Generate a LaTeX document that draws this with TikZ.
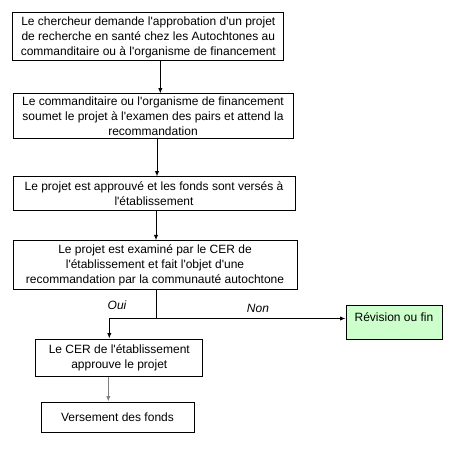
\documentclass[tikz,border=0pt]{standalone}
\usepackage{fontspec}
\setmainfont{Liberation Sans}[Ligatures=TeXOff]
\usetikzlibrary{arrows.meta}
\definecolor{revgreen}{RGB}{204,255,204}
\tikzset{
  etape/.style={draw,line width=0.75pt,align=center,inner sep=0pt,
    font=\fontsize{9}{11.25}\selectfont},
}
\begin{document}
\begin{tikzpicture}[x=0.75pt,y=-0.75pt,>={Latex[length=4pt,width=3.2pt]},line width=0.75pt]
  \useasboundingbox (0,0) rectangle (450,449);
  \node[etape,minimum width=203.25pt,minimum height=36pt](b1) at (148.3,37)
    {Le chercheur demande l'approbation d'un projet\\de recherche en santé chez les Autochtones au\\commanditaire ou à l'organisme de financement};
  \node[etape,minimum width=210pt,minimum height=33.75pt](b2) at (153,116.5)
    {Le commanditaire ou l'organisme de financement\\soumet le projet à l'examen des pairs et attend la\\recommandation};
  \node[etape,minimum width=211.5pt,minimum height=25.5pt](b3) at (154,194)
    {Le projet est approuvé et les fonds sont versés à\\l'établissement};
  \node[etape,minimum width=213pt,minimum height=36.75pt](b4) at (155,265.3)
    {Le projet est examiné par le CER de\\l'établissement et fait l'objet d'une\\recommandation par la communauté autochtone};
  \node[etape,minimum width=125.25pt,minimum height=27.75pt](b5) at (119.3,357.5)
    {Le CER de l'établissement\\approuve le projet};
  \node[etape,minimum width=114.75pt,minimum height=22.5pt](b6) at (117.5,417)
    {Versement des fonds};
  \node[etape,fill=revgreen,minimum width=72pt,minimum height=25.5pt,text depth=8pt](rev) at (394,322)
    {Révision ou fin};
  \coordinate (br) at (156.5,318.5);

  \node[font=\fontsize{9}{10}\selectfont\itshape] at (117,305) {Oui};
  \node[font=\fontsize{9}{10}\selectfont\itshape] at (258,308) {Non};

  \draw[->] ([xshift=9pt]b1.south) -- ([xshift=9pt]b1.south |- b2.north);
  \draw[->] ([xshift=3pt]b2.south) -- ([xshift=3pt]b2.south |- b3.north);
  \draw[->] ([xshift=1.5pt]b3.south) -- ([xshift=1.5pt]b3.south |- b4.north);
  \draw (b4.south -| br) -- (br);
  \draw[->] (br) -| ([xshift=-7.5pt]b5.north);
  \draw[->] (br) -- (br -| rev.west);
  \draw[->,gray] ([xshift=-8.25pt]b5.south) -- ([xshift=-8.25pt]b5.south |- b6.north);
\end{tikzpicture}
\end{document}
